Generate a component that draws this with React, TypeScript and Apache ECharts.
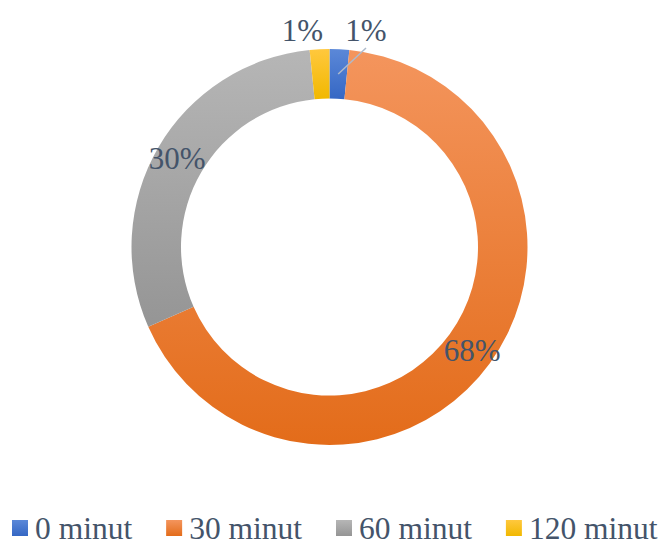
import React, { useEffect, useRef } from 'react';
import * as echarts from 'echarts';

const categories = ['0 minut', '30 minut', '60 minut', '120 minut'];
const shares = [1.6, 66.8, 30.0, 1.6];
const shareLabels = ['1%', '68%', '30%', '1%'];
const topColors = ['#5B88D8', '#F4955D', '#B6B6B6', '#FFC83E'];
const bottomColors = ['#3567C4', '#E36C1A', '#959595', '#F1B800'];

const CX = 329.5;
const CY = 247;
const R0 = 148.5;
const R1 = 198;
const FONT = 'Liberation Serif';
const TEXT_COLOR = '#44546A';

export default function App() {
  const ref = useRef<HTMLDivElement>(null);
  useEffect(() => {
    if (!ref.current) return;
    const chart = echarts.init(ref.current, null, { renderer: 'svg' });
    const total = shares.reduce((a, b) => a + b, 0);
    const midA = (shares[0] / 2 / total) * Math.PI * 2;
    const rm = (R0 + R1) / 2;
    const lx1 = CX + rm * Math.sin(midA);
    const ly1 = CY - rm * Math.cos(midA);

    const data = categories.map((name, i) => ({
      name,
      value: shares[i],
      itemStyle: {
        color: {
          type: 'linear',
          x: 0,
          y: 0,
          x2: 0,
          y2: 1,
          colorStops: [
            { offset: 0, color: topColors[i] },
            { offset: 1, color: bottomColors[i] },
          ],
        },
      },
    }));

    chart.setOption({
      animation: false,
      backgroundColor: '#ffffff',
      textStyle: { fontFamily: FONT },
      legend: {
        data: categories,
        left: 12,
        top: 512,
        padding: 0,
        itemWidth: 16,
        itemHeight: 16,
        itemGap: 34,
        icon: 'rect',
        textStyle: {
          fontFamily: FONT,
          fontSize: 31.5,
          color: TEXT_COLOR,
          lineHeight: 32,
          padding: [0, 0, 0, 2],
        },
      },
      graphic: [
        {
          type: 'line',
          z: 100,
          shape: { x1: lx1, y1: ly1, x2: CX + 36.5, y2: 48 },
          style: { stroke: '#AEBACB', lineWidth: 1.5 },
        },
      ],
      series: [
        {
          type: 'pie',
          center: [CX, CY],
          radius: [R0, R1],
          startAngle: 90,
          clockwise: true,
          avoidLabelOverlap: false,
          itemStyle: { borderWidth: 0 },
          label: {
            show: true,
            position: 'inside',
            fontFamily: FONT,
            fontSize: 31,
            color: TEXT_COLOR,
            formatter: (p: any) => shareLabels[p.dataIndex],
          },
          labelLine: { show: false },
          emphasis: { disabled: true },
          labelLayout: (p: any) => {
            if (p.dataIndex === 0) {
              return { x: CX + 36.5, y: 30, align: 'center', verticalAlign: 'middle' };
            }
            if (p.dataIndex === 3) {
              return { x: CX - 27, y: 30, align: 'center', verticalAlign: 'middle' };
            }
            return {};
          },
          data,
        },
      ],
    });
    return () => chart.dispose();
  }, []);
  return (
    <div
      ref={ref}
      style={{ position: 'absolute', left: 0, top: 0, width: 662, height: 544 }}
    />
  );
}
